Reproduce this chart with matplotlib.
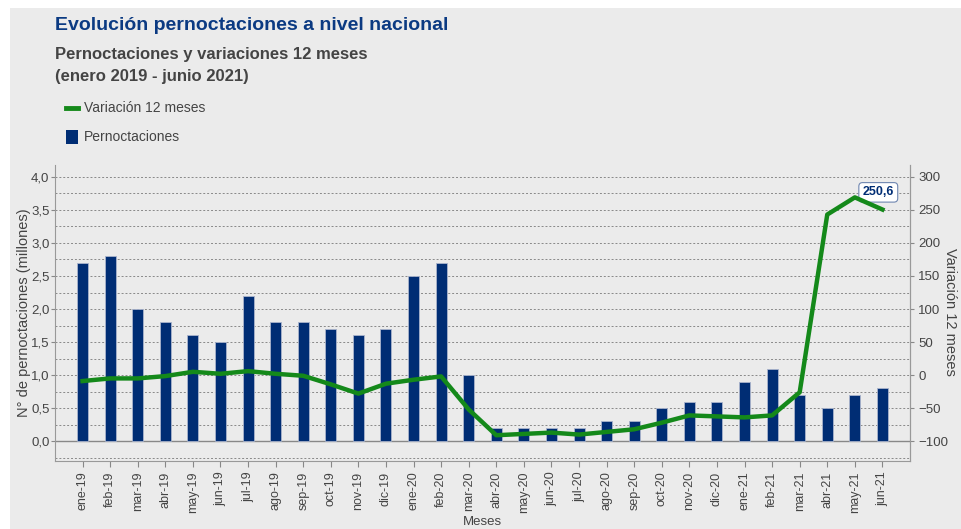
import matplotlib.pyplot as plt
from matplotlib.patches import Rectangle
from matplotlib.ticker import FuncFormatter, MultipleLocator

plt.rcParams["font.family"] = ["Liberation Sans", "DejaVu Sans"]

meses = ["ene-19", "feb-19", "mar-19", "abr-19", "may-19", "jun-19", "jul-19",
         "ago-19", "sep-19", "oct-19", "nov-19", "dic-19", "ene-20", "feb-20",
         "mar-20", "abr-20", "may-20", "jun-20", "jul-20", "ago-20", "sep-20",
         "oct-20", "nov-20", "dic-20", "ene-21", "feb-21", "mar-21", "abr-21",
         "may-21", "jun-21"]

# pernoctaciones en millones
pernoctaciones = [2.7, 2.8, 2.0, 1.8, 1.6, 1.5, 2.2, 1.8, 1.8, 1.7, 1.6, 1.7,
                  2.5, 2.7, 1.0, 0.2, 0.2, 0.2, 0.2, 0.3, 0.3, 0.5, 0.6, 0.6,
                  0.9, 1.1, 0.7, 0.5, 0.7, 0.8]

# variacion 12 meses (%)
variacion = [-9, -5, -5, -1.5, 5, 2, 6, 2, -1, -14, -28, -13, -7, -2, -52,
             -91, -89, -87, -90, -86, -82, -72, -61, -62.5, -64, -61, -26,
             243, 269, 250.6]

azul = "#002d74"
verde = "#14891a"
gris = "#444444"

fig = plt.figure(figsize=(9.61, 5.29), dpi=100)
fig.patches.append(Rectangle((10 / 961, 0), 1, 1 - 8 / 529, transform=fig.transFigure,
                             facecolor="#ebebeb", edgecolor="none", zorder=-10))

ax = fig.add_axes([55 / 961, 68 / 529, 855 / 961, 296 / 529])
ax.patch.set_alpha(0)
x = list(range(len(meses)))

ax.bar(x, pernoctaciones, width=0.4, color=azul, edgecolor="#aab4cc", linewidth=0.6, zorder=3)
ax.set_xlim(-1, len(meses))
ax.set_ylim(-0.3, 4.18)
ax.yaxis.set_major_locator(MultipleLocator(0.5))
ax.yaxis.set_major_formatter(FuncFormatter(lambda v, p: f"{v:.1f}".replace(".", ",")))
for yv in [-0.25] + [i * 0.25 for i in range(1, 17)]:
    ax.axhline(yv, color="#888888", linestyle=(0, (2, 2)), linewidth=0.7, zorder=1)
ax.axhline(0, color="#888888", linewidth=1.0, zorder=2)

ax.set_xticks(x)
ax.set_xticklabels(meses, rotation=90, fontsize=9, color=gris)
ax.tick_params(axis="y", labelsize=9.5, colors=gris, length=3, pad=1, color="#888888")
ax.tick_params(axis="x", length=4, color="#888888")
ax.spines["top"].set_visible(False)
for s in ["left", "bottom", "right"]:
    ax.spines[s].set_color("#999999")
ax.set_ylabel("N° de pernoctaciones (millones)", fontsize=10.5, color=gris, labelpad=0)
ax.set_xlabel("Meses", fontsize=9.5, color=gris, labelpad=2)

ax2 = ax.twinx()
ax2.set_ylim(-130, 318)
ax2.yaxis.set_major_locator(MultipleLocator(50))
ax2.plot(x, variacion, color=verde, linewidth=3.2, zorder=4, solid_joinstyle="round")
ax2.tick_params(axis="y", labelsize=9.5, colors=gris, length=3, pad=3, color="#888888")
ax2.spines["top"].set_visible(False)
ax2.spines["right"].set_color("#999999")
ax2.spines["left"].set_visible(False)
ax2.spines["bottom"].set_visible(False)

fig.text(950 / 961, 1 - 312 / 529, "Variación 12 meses", fontsize=10.5, color=gris,
         rotation=270, ha="center", va="center")

ax2.annotate(f"{variacion[-1]:.1f}".replace(".", ","), xy=(x[-1] - 0.15, variacion[-1] + 26),
             ha="center", va="center", fontsize=9, fontweight="bold", color=azul,
             bbox=dict(boxstyle="round,pad=0.3", facecolor="white", edgecolor="#6f86b0", linewidth=0.8))

fig.text(55 / 961, 1 - 26 / 529, "Evolución pernoctaciones a nivel nacional", fontsize=14,
         fontweight="bold", color="#0b3a82", va="center")
fig.text(55 / 961, 1 - 54 / 529, "Pernoctaciones y variaciones 12 meses", fontsize=12,
         fontweight="bold", color=gris, va="center")
fig.text(55 / 961, 1 - 76 / 529, "(enero 2019 - junio 2021)", fontsize=12,
         fontweight="bold", color=gris, va="center")

# leyenda manual
fig.lines.append(plt.Line2D([66 / 961, 78 / 961], [1 - 108 / 529] * 2, transform=fig.transFigure,
                            color=verde, linewidth=3.5))
fig.text(84 / 961, 1 - 108 / 529, "Variación 12 meses", fontsize=10, color=gris, va="center")
fig.patches.append(Rectangle((66 / 961, 1 - 144 / 529), 12 / 961, 14 / 529, transform=fig.transFigure,
                             facecolor=azul, edgecolor="none"))
fig.text(84 / 961, 1 - 137 / 529, "Pernoctaciones", fontsize=10, color=gris, va="center")

fig.savefig("out.png", dpi=100)
